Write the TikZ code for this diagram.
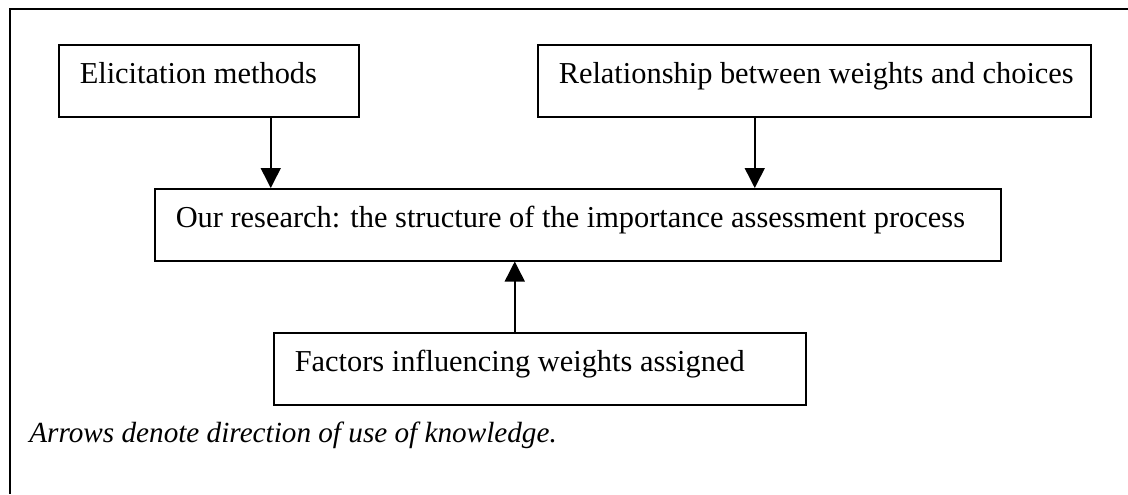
\documentclass[tikz,border=0pt]{standalone}
\usepackage{fontspec}
\setmainfont{Liberation Serif}
\usetikzlibrary{arrows.meta}

\begin{document}
\begin{tikzpicture}[x=0.5pt, y=-0.5pt]
\tikzset{boite/.style={draw, line width=0.75pt, anchor=north west, inner xsep=0pt, inner ysep=0pt, text height=19.5pt, text depth=16.5pt, align=flush left, execute at begin node={\hspace*{10.5pt}}, font=\fontsize{15.2}{18}\selectfont}}
\tikzset{fleche/.style={line width=0.75pt, -{Triangle[width=10pt,length=10pt]}}}
\useasboundingbox (0,0) rectangle (1128,494);
\draw[line width=0.75pt] (1128,9) -- (10,9) -- (10,494);
\node[boite, text width=150pt] (elicit) at (58,44) {Elicitation methods};
\node[boite, text width=276.5pt] (relat) at (537,44) {Relationship between weights and choices};
\node[boite, text width=423pt] (research) at (154,188) {Our research: the structure of the importance assessment process};
\node[boite, text width=266pt] (factors) at (273,332) {Factors influencing weights assigned};
\node[anchor=base west, inner sep=0pt, font=\fontsize{14.6}{17}\selectfont\itshape] (legende) at (29,442) {Arrows denote direction of use of knowledge.};
\draw[fleche] ([xshift=31pt]elicit.south) -- ([xshift=31pt]elicit.south |- research.north);
\draw[fleche] ([xshift=-29.75pt]relat.south) -- ([xshift=-29.75pt]relat.south |- research.north);
\draw[fleche] ([xshift=-12.5pt]factors.north) -- ([xshift=-12.5pt]factors.north |- research.south);
\end{tikzpicture}
\end{document}
